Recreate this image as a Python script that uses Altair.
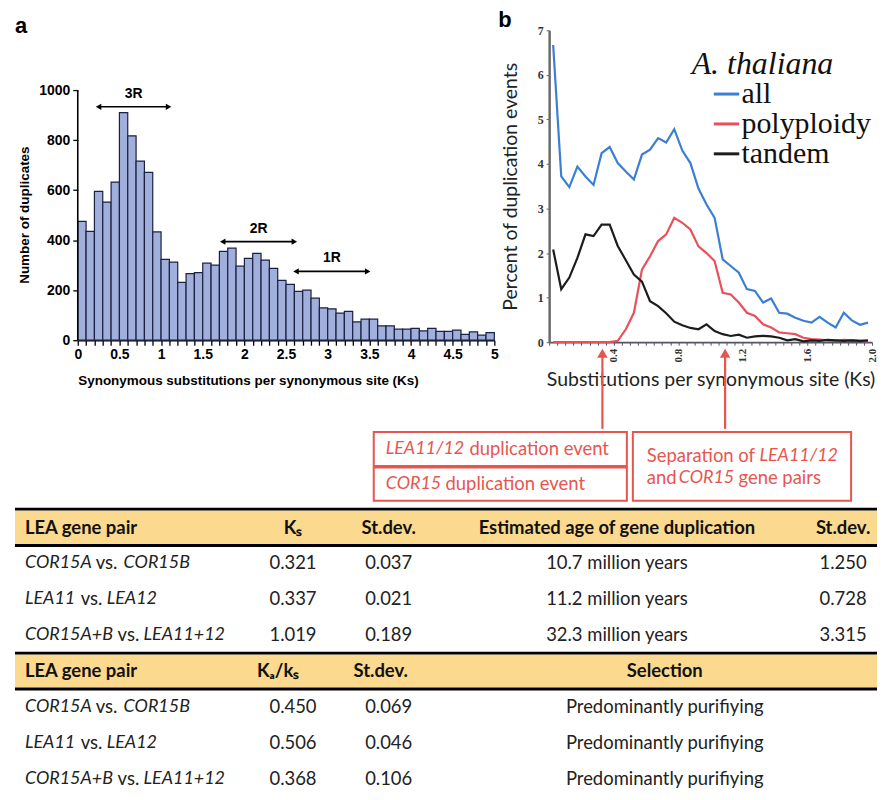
import altair as alt
import pandas as pd

# ---------------- panel a: Ks histogram ----------------
hist_bin_left = [round(0.1 * i, 1) for i in range(50)]
hist_counts = [475, 435, 595, 552, 632, 910, 817, 716, 671, 433,
               323, 312, 231, 266, 270, 308, 300, 355, 368, 296,
               327, 347, 320, 287, 239, 223, 195, 200, 168, 129,
               125, 108, 115, 73, 84, 84, 57, 57, 44, 44,
               47, 37, 47, 35, 35, 40, 23, 33, 20, 30]
round_labels = ["3R", "2R", "1R"]
round_start = [0.25, 1.74, 2.62]
round_end = [1.09, 2.60, 3.48]
round_level = [933, 394, 275]

# ---------------- panel b: duplication events ----------------
ks_mid = [0.025, 0.075, 0.125, 0.175, 0.225, 0.275, 0.325, 0.375, 0.425, 0.475,
          0.525, 0.575, 0.625, 0.675, 0.725, 0.775, 0.825, 0.875, 0.925, 0.975,
          1.025, 1.075, 1.125, 1.175, 1.225, 1.275, 1.325, 1.375, 1.425, 1.475,
          1.525, 1.575, 1.625, 1.675, 1.725, 1.775, 1.825, 1.875, 1.925, 1.975]
pct_all = [6.67, 3.72, 3.48, 3.94, 3.72, 3.53, 4.24, 4.38, 4.02, 3.83,
           3.65, 4.21, 4.32, 4.58, 4.48, 4.78, 4.30, 4.02, 3.45, 3.09,
           2.79, 1.86, 1.71, 1.56, 1.19, 1.15, 0.89, 0.98, 0.66, 0.64,
           0.55, 0.48, 0.44, 0.57, 0.44, 0.33, 0.66, 0.49, 0.39, 0.44]
pct_poly = [0, 0, 0, 0, 0, 0, 0, 0, 0.03, 0.29,
            0.66, 1.63, 1.93, 2.27, 2.42, 2.79, 2.68, 2.53, 2.15, 2.00,
            1.82, 1.11, 1.07, 0.89, 0.66, 0.59, 0.40, 0.33, 0.22, 0.20,
            0.18, 0.10, 0.07, 0.06, 0.04, 0.03, 0.05, 0.04, 0.03, 0.02]
pct_tandem = [2.08, 1.19, 1.45, 1.89, 2.42, 2.38, 2.64, 2.64, 2.16, 1.84,
              1.52, 1.36, 0.92, 0.81, 0.65, 0.46, 0.38, 0.32, 0.29, 0.40,
              0.25, 0.18, 0.14, 0.17, 0.10, 0.13, 0.14, 0.13, 0.10, 0.04,
              0.07, 0.02, 0.04, 0.03, 0.05, 0.04, 0.03, 0.04, 0.03, 0.04]
series_names = ["all", "polyploidy", "tandem"]
event_ks = [0.33, 1.09]

# ---------------- annotation boxes ----------------
box1_line1 = ["LEA11/12", "duplication event"]
box1_line2 = ["COR15", "duplication event"]
box2_line1 = ["Separation of", "LEA11/12"]
box2_line2 = ["and", "COR15", "gene pairs"]

# ---------------- tables ----------------
t1_header = ["LEA gene pair", "Kₛ", "St.dev.", "Estimated age of gene duplication", "St.dev."]
gene_pairs = [["COR15A", "vs.", "COR15B"], ["LEA11", "vs.", "LEA12"], ["COR15A+B", "vs.", "LEA11+12"]]
t1_ks = ["0.321", "0.337", "1.019"]
t1_ks_sd = ["0.037", "0.021", "0.189"]
t1_age = ["10.7 million years", "11.2 million years", "32.3 million years"]
t1_age_sd = ["1.250", "0.728", "3.315"]
t2_header = ["LEA gene pair", "Kₐ/kₛ", "St.dev.", "Selection"]
t2_kaks = ["0.450", "0.506", "0.368"]
t2_sd = ["0.069", "0.046", "0.106"]
t2_sel = ["Predominantly purifiying", "Predominantly purifiying", "Predominantly purifiying"]

# ---------------- styles / layout (page pixel coordinates) ----------------
FA = "Liberation Sans"
SERIF = "Liberation Serif"
SANS = "Lato"
BLUE, RED, BLACK = "#3a7fd4", "#e9505a", "#1c1c1c"
BOXRED = "#e8554f"
HEADER_FILL = "#fbd98e"
TXT = "#222222"

ROW_Y = [527, 563, 599, 635, 671, 707, 743, 779]
COL_X = {"ks": 292, "sd": 388, "age": 617, "agesd": 844, "kaks_h": 277, "sd2_h": 380, "sel": 665, "pair": 23}
PAIR_SEG_X = [[23, 94, 122], [23, 79, 105], [23, 116, 142]]
LINES_Y = [508.5, 545, 653, 689]
BANDS_Y = [(510, 543.5), (654.5, 687.5)]
BOXES = [(373, 627, 431, 500), (633, 852, 431, 500)]
DIVIDER = (373, 627, 466)
BOX_SEGS = [  # (x, y, italic?)
    (385, 448, True), (469, 448, False),
    (385, 483, True), (445, 483, False),
    (647, 455, False), (760, 455, True),
    (647, 477, False), (679, 477, True), (739, 477, False),
]
BOX_SEG_TEXT = box1_line1 + box1_line2 + box2_line1 + box2_line2

# ================= panel a =================
hist_df = pd.DataFrame({"lo": hist_bin_left,
                        "hi": [round(v + 0.1, 1) for v in hist_bin_left],
                        "n": hist_counts})
rounds_df = pd.DataFrame({"label": round_labels, "x0": round_start, "x1": round_end,
                          "xm": [(a + b) / 2 for a, b in zip(round_start, round_end)],
                          "y": round_level})

xa_scale = alt.Scale(domain=[0, 5], nice=False, zero=False)
ya_scale = alt.Scale(domain=[0, 1239], nice=False)
xa_axis = alt.Axis(
    values=[round(0.1 * i, 1) for i in range(51)],
    labelExpr="abs(datum.value*2 - round(datum.value*2)) < 0.001 ? format(datum.value, '~g') : ''",
    title="Synonymous substitutions per synonymous site (Ks)", titleAnchor="start",
    titleFont=FA, titleFontSize=13.5, titleFontWeight="bold", titleColor="black", titlePadding=12,
    labelFont=FA, labelFontSize=14, labelFontWeight="bold", labelColor="black", labelPadding=2,
    labelFlush=False, labelOverlap=False, tickSize=5, tickColor="black", tickWidth=1.3,
    domainColor="black", domainWidth=1.6, grid=False)
ya_axis = alt.Axis(
    values=list(range(0, 1001, 100)), format="d", title="Number of duplicates",
    titleFont=FA, titleFontSize=13.5, titleFontWeight="bold", titleColor="black", titlePadding=7,
    titleY=185, titleAnchor="middle",
    labelFont=FA, labelFontSize=14, labelFontWeight="bold", labelColor="black", labelPadding=3,
    labelFlush=False, labelOverlap=False, tickSize=5, tickColor="black", tickWidth=1.3,
    domain=False, grid=False)


def XA(f):
    return alt.X(f, scale=xa_scale, axis=xa_axis)


def YA(f):
    return alt.Y(f, scale=ya_scale, axis=ya_axis)


bars = alt.Chart(hist_df).mark_rect(fill="#a0afdc", stroke="#1b2140", strokeWidth=1.2).encode(
    x=XA("lo:Q"), x2="hi:Q", y=YA("n:Q"), y2=alt.datum(0))
a_axis_line = alt.Chart(pd.DataFrame({"x": [0]})).mark_rule(color="black", strokeWidth=1.6).encode(
    x=XA("x:Q"), y=alt.datum(0, scale=ya_scale), y2=alt.datum(1000))
r_rule = alt.Chart(rounds_df).mark_rule(color="black", strokeWidth=1.6).encode(
    x=XA("x0:Q"), x2="x1:Q", y=YA("y:Q"))
r_left = alt.Chart(rounds_df).mark_point(shape="triangle-left", filled=True, color="black",
                                         size=40, opacity=1).encode(x=XA("x0:Q"), y=YA("y:Q"))
r_right = alt.Chart(rounds_df).mark_point(shape="triangle-right", filled=True, color="black",
                                          size=40, opacity=1).encode(x=XA("x1:Q"), y=YA("y:Q"))
r_text = alt.Chart(rounds_df).mark_text(font=FA, fontSize=14, fontWeight="bold", color="black",
                                        dy=-13).encode(x=XA("xm:Q"), y=YA("y:Q"), text="label:N")

panel_a = alt.layer(bars, a_axis_line, r_rule, r_left, r_right, r_text).properties(
    width=418, height=311,
    title=alt.TitleParams("a", anchor="start", frame="group", font=FA, fontSize=22,
                          fontWeight="bold", color="black", offset=-8, dx=-63))

# ================= panel b =================
b_df = pd.DataFrame({
    "ks": ks_mid * 3,
    "pct": pct_all + pct_poly + pct_tandem,
    "series": [series_names[0]] * len(ks_mid) + [series_names[1]] * len(ks_mid) + [series_names[2]] * len(ks_mid),
})
ev_df = pd.DataFrame({"ks": event_ks})

xb_scale = alt.Scale(domain=[0, 2.0], nice=False, zero=False)
yb_scale = alt.Scale(domain=[0, 7], nice=False)
xb_axis = alt.Axis(
    values=[round(0.05 * i, 2) for i in range(41)],
    labelExpr="indexof(['0.40','0.80','1.20','1.60','2.00'], format(datum.value, '.2f')) >= 0 ? format(datum.value, '.1f') : ''",
    labelAngle=270, labelFont=SERIF, labelFontSize=11, labelFontWeight="bold", labelColor="#333",
    labelPadding=3, labelFlush=False, labelOverlap=False,
    title="Substitutions per synonymous site (Ks)", titleFont=SANS, titleFontSize=19.5,
    titleFontWeight="normal", titleColor=TXT, titlePadding=9,
    tickSize=3, tickColor="#556", tickWidth=1, domainColor="#556", domainWidth=1.8, grid=False)
yb_axis = alt.Axis(
    values=list(range(8)), title="Percent of duplication events",
    titleFont=SANS, titleFontSize=19.5, titleFontWeight="normal", titleColor=TXT, titlePadding=17,
    labelFont=SERIF, labelFontSize=12, labelFontWeight="bold", labelColor="#333", labelPadding=3,
    labelFlush=False, tickSize=3, tickColor="#666", domainColor="#666", domainWidth=2.4, grid=False)


def XB(f):
    return alt.X(f, scale=xb_scale, axis=xb_axis)


def YB(f):
    return alt.Y(f, scale=yb_scale, axis=yb_axis)


# legend position is measured from the row origin (panel a's plot corner, page x 76)
lines = alt.Chart(b_df).mark_line(strokeWidth=2.2, clip=False).encode(
    x=XB("ks:Q"), y=YB("pct:Q"),
    color=alt.Color("series:N", scale=alt.Scale(domain=series_names, range=[BLUE, RED, BLACK]),
                    sort=series_names,
                    legend=alt.Legend(orient="none", legendX=616, legendY=19, title="A. thaliana",
                                      titleFont=SERIF, titleFontSize=32, titleFontStyle="italic",
                                      titleFontWeight="normal", titleColor="#111", titlePadding=-2,
                                      labelFont=SERIF, labelFontSize=30, labelColor="#111",
                                      symbolType="stroke", symbolSize=650, symbolStrokeWidth=3,
                                      symbolOffset=20, labelOffset=0, rowPadding=-1.5)),
    detail="series:N")
ev_rule = alt.Chart(ev_df).mark_rule(color=BOXRED, strokeWidth=2.2, clip=False).encode(
    x=XB("ks:Q"), y=alt.datum(-0.3, scale=yb_scale), y2=alt.datum(-1.946))
ev_head = alt.Chart(ev_df).mark_point(shape="triangle-up", filled=True, color=BOXRED, size=110,
                                      opacity=1, clip=False).encode(
    x=XB("ks:Q"), y=alt.datum(-0.25, scale=yb_scale))

panel_b = alt.layer(lines, ev_rule, ev_head).properties(
    width=324, height=313,
    title=alt.TitleParams("b", anchor="start", frame="group", font=FA, fontSize=22,
                          fontWeight="bold", color="black", offset=-8, dx=-51))

# ================= boxes + table (x = 0 at panel a's plot origin, page x 76) =================
C_X0, C_X1 = 76, 878
C_LEFT = 13
C_Y0, C_Y1 = 430, 788
xc_scale = alt.Scale(domain=[C_X0, C_X1], nice=False, zero=False)
yc_scale = alt.Scale(domain=[C_Y0, C_Y1], nice=False, zero=False, reverse=True)


def XC(f):
    return alt.X(f, scale=xc_scale, axis=None)


def YC(f):
    return alt.Y(f, scale=yc_scale, axis=None)


band_df = pd.DataFrame({"x": [C_LEFT, C_LEFT], "x2": [C_X1, C_X1],
                        "y": [b[0] for b in BANDS_Y], "y2": [b[1] for b in BANDS_Y]})
bands = alt.Chart(band_df).mark_rect(fill=HEADER_FILL).encode(
    x=XC("x:Q"), x2="x2:Q", y=YC("y:Q"), y2="y2:Q")
line_df = pd.DataFrame({"x": [C_LEFT] * 4, "x2": [C_X1] * 4, "y": LINES_Y})
tlines = alt.Chart(line_df).mark_rule(color="black", strokeWidth=2.8).encode(
    x=XC("x:Q"), x2="x2:Q", y=YC("y:Q"))

box_df = pd.DataFrame({"x": [b[0] for b in BOXES], "x2": [b[1] for b in BOXES],
                       "y": [b[2] for b in BOXES], "y2": [b[3] for b in BOXES]})
boxes = alt.Chart(box_df).mark_rect(fill="white", fillOpacity=0, stroke=BOXRED, strokeWidth=2).encode(
    x=XC("x:Q"), x2="x2:Q", y=YC("y:Q"), y2="y2:Q")
div_df = pd.DataFrame({"x": [DIVIDER[0]], "x2": [DIVIDER[1]], "y": [DIVIDER[2]]})
divider = alt.Chart(div_df).mark_rule(color=BOXRED, strokeWidth=3.5).encode(
    x=XC("x:Q"), x2="x2:Q", y=YC("y:Q"))

bt_italic = pd.DataFrame({"x": [s[0] for s in BOX_SEGS if s[2]], "y": [s[1] for s in BOX_SEGS if s[2]],
                          "t": [t for t, s in zip(BOX_SEG_TEXT, BOX_SEGS) if s[2]]})
bt_normal = pd.DataFrame({"x": [s[0] for s in BOX_SEGS if not s[2]], "y": [s[1] for s in BOX_SEGS if not s[2]],
                          "t": [t for t, s in zip(BOX_SEG_TEXT, BOX_SEGS) if not s[2]]})


def txt(df, align="left", style="normal", weight="normal", size=18.5, color=TXT):
    return alt.Chart(df).mark_text(align=align, baseline="middle", font=SANS, fontSize=size,
                                   fontStyle=style, fontWeight=weight, color=color).encode(
        x=XC("x:Q"), y=YC("y:Q"), text="t:N")


box_it = txt(bt_italic, style="italic", size=18, color=BOXRED)
box_no = txt(bt_normal, size=18.5, color=BOXRED)

hdr_left = pd.DataFrame({"x": [COL_X["pair"], COL_X["pair"]], "y": [ROW_Y[0], ROW_Y[4]],
                         "t": [t1_header[0], t2_header[0]]})
hdr_center = pd.DataFrame({
    "x": [COL_X["ks"], COL_X["sd"], COL_X["age"], COL_X["agesd"], COL_X["kaks_h"], COL_X["sd2_h"], COL_X["sel"]],
    "y": [ROW_Y[0]] * 4 + [ROW_Y[4]] * 3,
    "t": t1_header[1:] + t2_header[1:]})

pair_rows = ROW_Y[1:4] + ROW_Y[5:8]
seg_it = {"x": [], "y": [], "t": []}
seg_no = {"x": [], "y": [], "t": []}
for k, yy in enumerate(pair_rows):
    segs = gene_pairs[k % 3]
    xs = PAIR_SEG_X[k % 3]
    seg_it["x"] += [xs[0], xs[2]]
    seg_it["y"] += [yy, yy]
    seg_it["t"] += [segs[0], segs[2]]
    seg_no["x"].append(xs[1])
    seg_no["y"].append(yy)
    seg_no["t"].append(segs[1])

body_center = {"x": [], "y": [], "t": []}
for i in range(3):
    for key, vals in [("ks", t1_ks), ("sd", t1_ks_sd), ("age", t1_age), ("agesd", t1_age_sd)]:
        body_center["x"].append(COL_X[key])
        body_center["y"].append(ROW_Y[1 + i])
        body_center["t"].append(vals[i])
    for key, vals in [("ks", t2_kaks), ("sd", t2_sd), ("sel", t2_sel)]:
        body_center["x"].append(COL_X[key])
        body_center["y"].append(ROW_Y[5 + i])
        body_center["t"].append(vals[i])

t_hl = txt(hdr_left, weight="bold", color="#111")
t_hc = txt(hdr_center, align="center", weight="bold", color="#111")
t_pi = txt(pd.DataFrame(seg_it), style="italic", size=18)
t_pn = txt(pd.DataFrame(seg_no))
t_bc = txt(pd.DataFrame(body_center), align="center")

bottom = alt.layer(bands, tlines, boxes, divider, box_it, box_no,
                   t_hl, t_hc, t_pi, t_pn, t_bc).properties(width=C_X1 - C_X0, height=C_Y1 - C_Y0)

top = alt.hconcat(panel_a, panel_b, spacing=0)
chart = alt.vconcat(top, bottom, spacing=0).properties(
    padding={"left": 5, "top": 0, "right": 0, "bottom": 0}
).configure_view(stroke=None)

chart.save("out.html", embed_options={"renderer": "svg", "actions": False})
